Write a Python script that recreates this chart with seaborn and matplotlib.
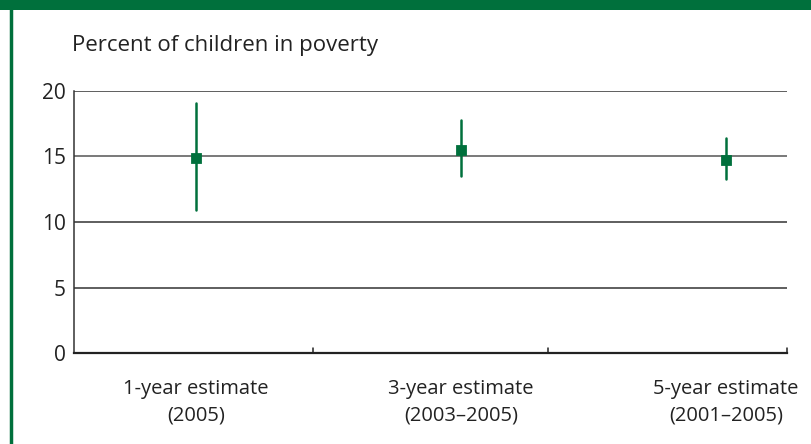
import pandas as pd
import numpy as np
import matplotlib
matplotlib.use("Agg")
import matplotlib.pyplot as plt
import seaborn as sns
from matplotlib.patches import Rectangle
from matplotlib.lines import Line2D

# ---- data ----
categories = ["1-year estimate\n(2005)", "3-year estimate\n(2003\u20132005)", "5-year estimate\n(2001\u20132005)"]
estimate   = [14.9, 15.5, 14.7]
lower      = [10.9, 13.5, 13.3]
upper      = [19.1, 17.8, 16.4]
y_ticks    = [0, 5, 10, 15, 20]

GREEN = "#00703C"

# long form: low / estimate / high per category -> median = estimate, min/max = interval
rows = []
for cat, lo, est, hi in zip(categories, lower, estimate, upper):
    for v in (lo, est, hi):
        rows.append({"category": cat, "value": v})
df = pd.DataFrame(rows)

sns.set_theme(style="white")
plt.rcParams["font.family"] = ["Open Sans", "DejaVu Sans"]

fig = plt.figure(figsize=(8.12, 4.44), dpi=100)
ax = fig.add_axes([74 / 812, 1 - 353 / 444, (787 - 74) / 812, (353 - 91) / 444])

# horizontal grid lines
grid_colors = {5: "#333333", 10: "#333333", 15: "#555555", 20: "#333333"}
for t in y_ticks[1:]:
    ax.axhline(t, color=grid_colors[t], lw=1.1, zorder=1)

sns.pointplot(data=df, x="category", y="value", estimator="median",
              errorbar=lambda v: (v.min(), v.max()),
              linestyle="none", marker="s", markersize=5.5,
              color=GREEN, err_kws={"linewidth": 1.8, "color": GREEN},
              ax=ax, zorder=3)

ax.set_xlim(-0.46, 2.23)
ax.set_ylim(0, 20)
ax.set_yticks(y_ticks)
ax.set_yticklabels([str(t) for t in y_ticks], fontsize=15, color="#222222")
ax.tick_params(axis="y", length=0, pad=6)
ax.tick_params(axis="x", length=0, pad=19, labelsize=14.5, labelcolor="#222222")
for lbl in ax.get_xticklabels():
    lbl.set_linespacing(1.4)
ax.set_xlabel("")
ax.set_ylabel("")

for side in ["top", "right"]:
    ax.spines[side].set_visible(False)
ax.spines["left"].set_color("#333333")
ax.spines["left"].set_linewidth(1.1)
ax.spines["bottom"].set_color("#222222")
ax.spines["bottom"].set_linewidth(1.6)

# small upward separator ticks on the baseline
for xs in [0.44, 1.33, 2.23]:
    ax.plot([xs, xs], [0, 0.35], color="#222222", lw=1.1, clip_on=False, zorder=2)

fig.text(72 / 812, 1 - 45 / 444, "Percent of children in poverty",
         fontsize=16, color="#222222", va="center", ha="left")

# frame: green top bar and left rule
fig.patches.append(Rectangle((0, 1 - 10 / 444), 1, 10 / 444, transform=fig.transFigure,
                             facecolor=GREEN, edgecolor="none"))
fig.lines.append(Line2D([11 / 812, 11 / 812], [0, 1], transform=fig.transFigure,
                        color=GREEN, lw=2.5))

fig.savefig("out.png", dpi=100)
